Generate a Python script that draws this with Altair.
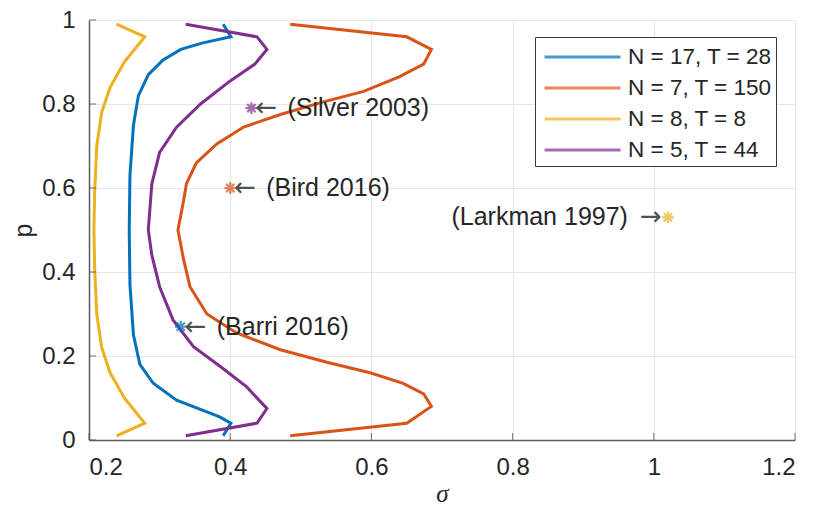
import altair as alt
import pandas as pd

# ---- data ----
series_names = ["N = 17, T = 28", "N = 7, T = 150", "N = 8, T = 8", "N = 5, T = 44"]
series_colors = ["#0072BD", "#D95319", "#EDB120", "#7E2F8E"]

blue_p = [0.99, 0.96, 0.945, 0.93, 0.905, 0.87, 0.82, 0.75, 0.63, 0.5, 0.37, 0.25, 0.18, 0.135, 0.095, 0.067, 0.055, 0.04, 0.01]
blue_s = [0.390, 0.401, 0.360, 0.330, 0.305, 0.284, 0.270, 0.263, 0.258, 0.257, 0.258, 0.263, 0.272, 0.291, 0.324, 0.367, 0.385, 0.401, 0.390]

orange_p = [0.99, 0.96, 0.93, 0.895, 0.865, 0.83, 0.805, 0.775, 0.745, 0.705, 0.66, 0.61, 0.57, 0.5,
            0.43, 0.365, 0.30, 0.255, 0.215, 0.185, 0.16, 0.135, 0.11, 0.08, 0.04, 0.01]
orange_s = [0.485, 0.650, 0.685, 0.674, 0.640, 0.589, 0.532, 0.471, 0.419, 0.381, 0.352, 0.338, 0.334, 0.326,
            0.334, 0.343, 0.367, 0.409, 0.471, 0.537, 0.598, 0.645, 0.674, 0.685, 0.650, 0.485]

yellow_p = [0.99, 0.96, 0.90, 0.84, 0.78, 0.70, 0.59, 0.5, 0.41, 0.30, 0.22, 0.16, 0.10, 0.04, 0.01]
yellow_s = [0.239, 0.279, 0.250, 0.230, 0.218, 0.211, 0.208, 0.207, 0.208, 0.211, 0.218, 0.230, 0.250, 0.279, 0.239]

purple_p = [0.99, 0.96, 0.93, 0.895, 0.855, 0.80, 0.745, 0.685, 0.61, 0.5, 0.44, 0.365, 0.286, 0.222, 0.175, 0.127, 0.075, 0.04, 0.01]
purple_s = [0.337, 0.438, 0.452, 0.435, 0.400, 0.358, 0.324, 0.300, 0.289, 0.284, 0.289, 0.300, 0.319, 0.348, 0.386, 0.423, 0.452, 0.438, 0.337]

study_labels = ["(Silver 2003)", "(Bird 2016)", "(Barri 2016)", "(Larkman 1997)"]
study_sigma = [0.43, 0.40, 0.33, 1.02]
study_p = [0.79, 0.60, 0.27, 0.53]
study_colors = ["#7E2F8E", "#D95319", "#0072BD", "#EDB120"]
study_side = ["left", "left", "left", "right"]

x_ticks = [0.2, 0.4, 0.6, 0.8, 1.0, 1.2]
y_ticks = [0, 0.2, 0.4, 0.6, 0.8, 1.0]

# ---- tables ----
rows = []
for name, ps, ss in zip(series_names, [blue_p, orange_p, yellow_p, purple_p], [blue_s, orange_s, yellow_s, purple_s]):
    for i, (p, s) in enumerate(zip(ps, ss)):
        rows.append({"series": name, "sigma": s, "p": p, "idx": i})
curves = pd.DataFrame(rows)

studies = pd.DataFrame({"label": study_labels, "sigma": study_sigma, "p": study_p,
                        "color": study_colors, "side": study_side})
studies["arrow"] = ["\u2190" if s == "left" else "\u2192" for s in study_side]
left_df = studies[studies.side == "left"]
right_df = studies[studies.side == "right"]

FONT = "Liberation Sans"
TXT = "#262626"

xscale = alt.Scale(domain=[0.2, 1.2], nice=False, zero=False)
yscale = alt.Scale(domain=[0, 1], nice=False, zero=False)

xaxis = alt.Axis(values=x_ticks, format="~g", title="σ", grid=True, tickSize=0,
                 labelFontSize=24, labelPadding=15, titleFont="Liberation Serif",
                 titleFontStyle="italic", titleFontWeight="normal", titleFontSize=25,
                 titlePadding=2)
yaxis = alt.Axis(values=y_ticks, format="~g", title="p", grid=True, tickSize=0,
                 labelFontSize=24, labelPadding=14, titleFontSize=25,
                 titleFontWeight="normal", titlePadding=5)

lines = alt.Chart(curves).mark_line(strokeWidth=3).encode(
    x=alt.X("sigma:Q", scale=xscale, axis=xaxis),
    y=alt.Y("p:Q", scale=yscale, axis=yaxis),
    color=alt.Color("series:N",
                    scale=alt.Scale(domain=series_names, range=series_colors),
                    sort=series_names,
                    legend=alt.Legend(orient="none", legendX=446, legendY=17, title=None,
                                      fillColor="white", strokeColor="#3a3a3a",
                                      padding=4, symbolType="M-0.72,0L4.52,0", symbolSize=841,
                                      symbolStrokeWidth=3, labelFontSize=22.5, labelFont=FONT,
                                      labelColor=TXT, labelOffset=57, rowPadding=3)),
    order="idx:Q",
)

asterisk = "M-1,0L1,0M0,-1L0,1M-0.7,-0.7L0.7,0.7M-0.7,0.7L0.7,-0.7"
points = alt.Chart(studies).mark_point(shape=asterisk, filled=False, strokeWidth=2.2, size=140).encode(
    x="sigma:Q", y="p:Q", color=alt.Color("color:N", scale=None)
)

arrow_left = alt.Chart(left_df).mark_text(
    align="left", baseline="middle", font="DejaVu Sans", fontSize=26, color="#505050", dx=4
).encode(x="sigma:Q", y="p:Q", text="arrow:N")
label_left = alt.Chart(left_df).mark_text(
    align="left", baseline="middle", font=FONT, fontSize=25, color=TXT, dx=36
).encode(x="sigma:Q", y="p:Q", text="label:N")

arrow_right = alt.Chart(right_df).mark_text(
    align="right", baseline="middle", font="DejaVu Sans", fontSize=26, color="#505050", dx=-6
).encode(x="sigma:Q", y="p:Q", text="arrow:N")
label_right = alt.Chart(right_df).mark_text(
    align="right", baseline="middle", font=FONT, fontSize=25, color=TXT, dx=-40
).encode(x="sigma:Q", y="p:Q", text="label:N")

xt = alt.Chart(pd.DataFrame({"v": x_ticks})).mark_tick(orient="vertical", size=7, thickness=1.2,
                                                       color="#555555", yOffset=-3.5).encode(
    x="v:Q", y=alt.value(420))
yt = alt.Chart(pd.DataFrame({"v": y_ticks})).mark_tick(orient="horizontal", size=7, thickness=1.2,
                                                       color="#555555", xOffset=3.5).encode(
    y="v:Q", x=alt.value(0))

chart = alt.layer(lines, xt, yt, points, arrow_left, label_left, arrow_right, label_right).properties(
    width=706, height=420,
    autosize=alt.AutoSizeParams(type="none"),
    padding={"left": 81, "top": 12, "right": 14, "bottom": 69},
).configure_view(stroke=None).configure_axis(
    labelFont=FONT, titleFont=FONT, labelColor=TXT, titleColor=TXT,
    domainColor="#5a5a5a", domainWidth=1.5, gridColor="#e6e6e6", gridWidth=1,
)

chart.save("out.html", embed_options={"renderer": "svg", "actions": False})
